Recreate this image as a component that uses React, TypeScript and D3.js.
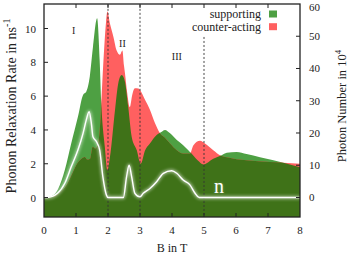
import { useEffect, useRef } from "react";
import * as d3 from "d3";

// supporting (green) relaxation rate in ns^-1
const supportB = [0, 0.2, 0.44, 0.65, 0.85, 1.06, 1.22, 1.32, 1.43, 1.53, 1.66, 1.74, 1.79, 1.9, 1.98, 2.06, 2.22, 2.32, 2.43, 2.53, 2.63, 2.74, 2.9, 3.02, 3.16, 3.31, 3.52, 3.68, 3.78, 3.94, 4.15, 4.35, 4.51, 4.61, 4.8, 4.98, 5.29, 5.55, 5.71, 6.02, 6.33, 6.75, 7.17, 7.48, 8];
const supportRate = [0, 0.05, 0.5, 1.63, 3.2, 4.78, 6.07, 6.26, 7.15, 8.9, 10.6, 8.1, 5.6, 3.0, 1.6, 2.4, 5.2, 6.75, 7.25, 6.85, 5.4, 3.6, 2.8, 2.0, 2.8, 3.2, 3.7, 3.9, 4.0, 3.8, 3.4, 3.1, 2.8, 2.6, 2.2, 1.96, 2.3, 2.5, 2.65, 2.7, 2.57, 2.38, 2.2, 2.06, 1.8];

// counter-acting (red) relaxation rate in ns^-1
const counterB = [0, 0.3, 0.5, 0.7, 0.9, 1.0, 1.12, 1.28, 1.35, 1.44, 1.52, 1.6, 1.7, 1.76, 1.8, 1.87, 1.94, 1.98, 2.06, 2.17, 2.27, 2.375, 2.45, 2.5, 2.53, 2.6, 2.68, 2.76, 2.84, 2.95, 3.0, 3.16, 3.31, 3.47, 3.625, 3.8, 3.94, 4.15, 4.35, 4.56, 4.67, 4.875, 5.03, 5.29, 5.5, 5.71, 6.33, 7.06, 7.48, 8];
const counterRate = [0, 0.05, 0.3, 0.75, 1.5, 1.9, 2.2, 2.4, 2.25, 2.3, 3.0, 2.9, 3.3, 4.5, 6.0, 8.5, 10.4, 11.0, 10.3, 9.5, 8.7, 8.45, 8.7, 7.8, 7.35, 6.2, 5.35, 6.1, 6.46, 6.45, 6.36, 5.77, 5.2, 4.4, 3.8, 3.5, 3.2, 2.8, 2.6, 2.6, 3.1, 3.36, 3.2, 2.8, 2.5, 2.38, 2.2, 2.1, 2.06, 2.0];

// photon number n in 10^4
const photonB = [0, 0.1, 0.42, 0.65, 0.85, 1.06, 1.22, 1.32, 1.41, 1.48, 1.53, 1.64, 1.74, 1.84, 1.95, 2.0, 2.48, 2.58, 2.66, 2.74, 2.84, 3.0, 3.1, 3.31, 3.52, 3.73, 3.99, 4.15, 4.35, 4.56, 4.72, 4.85, 8];
const photonN = [0, 0, 1.3, 4.4, 9.5, 14.7, 19.9, 24, 26.6, 23, 18.8, 17.3, 14.7, 6.4, 0.8, 0, 0, 6.4, 10, 6.4, 1.3, 0.2, 1.3, 2.8, 4.9, 7.5, 8.3, 7.5, 5.4, 3.9, 1.3, 0, 0];

const xTicks = [0, 1, 2, 3, 4, 5, 6, 7, 8];
const leftTicks = [0, 2, 4, 6, 8, 10];
const rightTicks = [0, 10, 20, 30, 40, 50, 60];
const regimeB = [2, 3, 5];
const regimeTop = [11.4, 11.4, 9.5];
const regionLabels = [
  { text: "I", b: 0.93, v: 9.68 },
  { text: "II", b: 2.45, v: 8.9 },
  { text: "III", b: 4.15, v: 8.14 },
];

const GREEN = "#4ea043";
const RED = "#ff6060";
const DARK = "#3f7218";
const FONT = "'Liberation Serif', 'Times New Roman', serif";

export default function App() {
  const svgRef = useRef<SVGSVGElement>(null);

  useEffect(() => {
    if (!svgRef.current) return;
    const svg = d3.select(svgRef.current);
    svg.selectAll("*").remove();

    const left = 44, right = 300, top = 4, bottom = 217;
    const x = d3.scaleLinear().domain([0, 8]).range([left, right]);
    const yL = d3.scaleLinear().domain([-1.15, 11.45]).range([bottom, top]);
    const yR = d3.scaleLinear().domain([-6.05, 60]).range([bottom, top]);

    const support = supportB.map((b, i) => [b, supportRate[i]] as [number, number]);
    const counter = counterB.map((b, i) => [b, counterRate[i]] as [number, number]);
    const photon = photonB.map((b, i) => [b, photonN[i]] as [number, number]);

    const area = d3
      .area<[number, number]>()
      .x((d) => x(d[0]))
      .y0(bottom)
      .y1((d) => yL(d[1]))
      .curve(d3.curveMonotoneX);

    const defs = svg.append("defs");
    defs.append("clipPath").attr("id", "plot-clip")
      .append("rect").attr("x", left).attr("y", top)
      .attr("width", right - left).attr("height", bottom - top);
    defs.append("clipPath").attr("id", "red-clip")
      .append("path").attr("d", area(counter)!);
    const glow = defs.append("filter").attr("id", "glow")
      .attr("x", "-20%").attr("y", "-20%").attr("width", "140%").attr("height", "140%");
    glow.append("feGaussianBlur").attr("stdDeviation", 1.8);

    const g = svg.append("g").attr("clip-path", "url(#plot-clip)");

    g.append("path").attr("d", area(support)!).attr("fill", GREEN);
    g.append("path").attr("d", area(counter)!).attr("fill", RED);
    // overlap of both regions
    g.append("g").attr("clip-path", "url(#red-clip)")
      .append("path").attr("d", area(support)!).attr("fill", DARK);

    // regime borders
    g.selectAll(".regime")
      .data(regimeB)
      .join("line")
      .attr("x1", (d) => x(d))
      .attr("x2", (d) => x(d))
      .attr("y1", (_, i) => yL(regimeTop[i]))
      .attr("y2", bottom)
      .attr("stroke", "#333")
      .attr("stroke-width", 0.9)
      .attr("stroke-dasharray", "2,2");

    // photon number with glow
    const line = d3
      .line<[number, number]>()
      .x((d) => x(d[0]))
      .y((d) => yR(d[1]))
      .curve(d3.curveMonotoneX);
    g.append("path").datum(photon).attr("d", line)
      .attr("fill", "none").attr("stroke", "#fff").attr("stroke-width", 3.5)
      .attr("opacity", 0.5).attr("filter", "url(#glow)");
    g.append("path").datum(photon).attr("d", line)
      .attr("fill", "none").attr("stroke", "#fff").attr("stroke-width", 1.4);

    const nx = x(5.31), ny = yR(1.4);
    g.append("text").attr("x", nx).attr("y", ny)
      .attr("fill", "#fff").attr("font-size", 20).attr("font-family", FONT)
      .attr("opacity", 0.25).attr("filter", "url(#glow)").text("n");
    g.append("text").attr("x", nx).attr("y", ny)
      .attr("fill", "#fff").attr("font-size", 20).attr("font-family", FONT).text("n");

    // region labels
    svg.selectAll(".region")
      .data(regionLabels)
      .join("text")
      .attr("x", (d) => x(d.b))
      .attr("y", (d) => yL(d.v))
      .attr("text-anchor", "middle")
      .attr("font-size", 10)
      .attr("font-family", FONT)
      .attr("fill", "#222")
      .text((d) => d.text);

    // frame and ticks
    const ax = svg.append("g").attr("stroke", "#222").attr("stroke-width", 1);
    ax.append("rect").attr("x", left).attr("y", top)
      .attr("width", right - left).attr("height", bottom - top)
      .attr("fill", "none").attr("stroke-width", 1.3);
    const inner = xTicks.slice(1, -1);
    ax.selectAll(".tb").data(inner).join("line")
      .attr("x1", (d) => x(d)).attr("x2", (d) => x(d))
      .attr("y1", bottom).attr("y2", bottom - 4);
    ax.selectAll(".tt").data(inner).join("line")
      .attr("x1", (d) => x(d)).attr("x2", (d) => x(d))
      .attr("y1", top).attr("y2", top + 4);
    ax.selectAll(".tl").data(leftTicks).join("line")
      .attr("x1", left).attr("x2", left + 4)
      .attr("y1", (d) => yL(d)).attr("y2", (d) => yL(d));
    ax.selectAll(".tr").data(rightTicks.slice(0, -1)).join("line")
      .attr("x1", right - 4).attr("x2", right)
      .attr("y1", (d) => yR(d)).attr("y2", (d) => yR(d));

    const labels = svg.append("g").attr("font-family", FONT)
      .attr("font-size", 11).attr("fill", "#222");
    labels.selectAll(".xl").data(xTicks).join("text")
      .attr("x", (d) => x(d)).attr("y", 234)
      .attr("text-anchor", "middle").text((d) => d);
    labels.selectAll(".ll").data(leftTicks).join("text")
      .attr("x", 36).attr("y", (d) => yL(d) + 4)
      .attr("text-anchor", "end").text((d) => d);
    labels.selectAll(".rl").data(rightTicks).join("text")
      .attr("x", 309).attr("y", (d) => Math.max(yR(d) + 4, 10.5))
      .attr("text-anchor", "start").text((d) => d);

    // axis titles
    const titles = svg.append("g").attr("font-family", FONT).attr("fill", "#222");
    titles.append("text").attr("x", 172).attr("y", 252)
      .attr("font-size", 12).attr("text-anchor", "middle").text("B in T");
    const lt = titles.append("text")
      .attr("transform", "translate(16,106) rotate(-90)")
      .attr("font-size", 14)
      .attr("text-anchor", "middle");
    lt.append("tspan").text("Phonon Relaxation Rate in ns");
    lt.append("tspan").attr("dy", -6).attr("font-size", 10).text("-1");
    const rt = titles.append("text")
      .attr("transform", "translate(346,106) rotate(-90)")
      .attr("font-size", 12.5)
      .attr("text-anchor", "middle");
    rt.append("tspan").text("Photon Number in 10");
    rt.append("tspan").attr("dy", -5).attr("font-size", 9).text("4");

    // legend
    const legend = [
      { label: "supporting", color: GREEN },
      { label: "counter-acting", color: RED },
    ];
    const lg = svg.append("g").attr("font-family", FONT).attr("font-size", 12);
    legend.forEach((d, i) => {
      const cy = 14 + i * 12.7;
      lg.append("text").attr("x", 261).attr("y", cy + 3.8)
        .attr("text-anchor", "end").attr("fill", "#222").text(d.label);
      lg.append("rect").attr("x", 269).attr("y", cy - 3.5)
        .attr("width", 8).attr("height", 7).attr("fill", d.color);
    });
  }, []);

  return (
    <svg
      ref={svgRef}
      width={353}
      height={258}
      viewBox="0 0 353 258"
      style={{ position: "absolute", left: 0, top: 0, background: "#fff" }}
    />
  );
}
